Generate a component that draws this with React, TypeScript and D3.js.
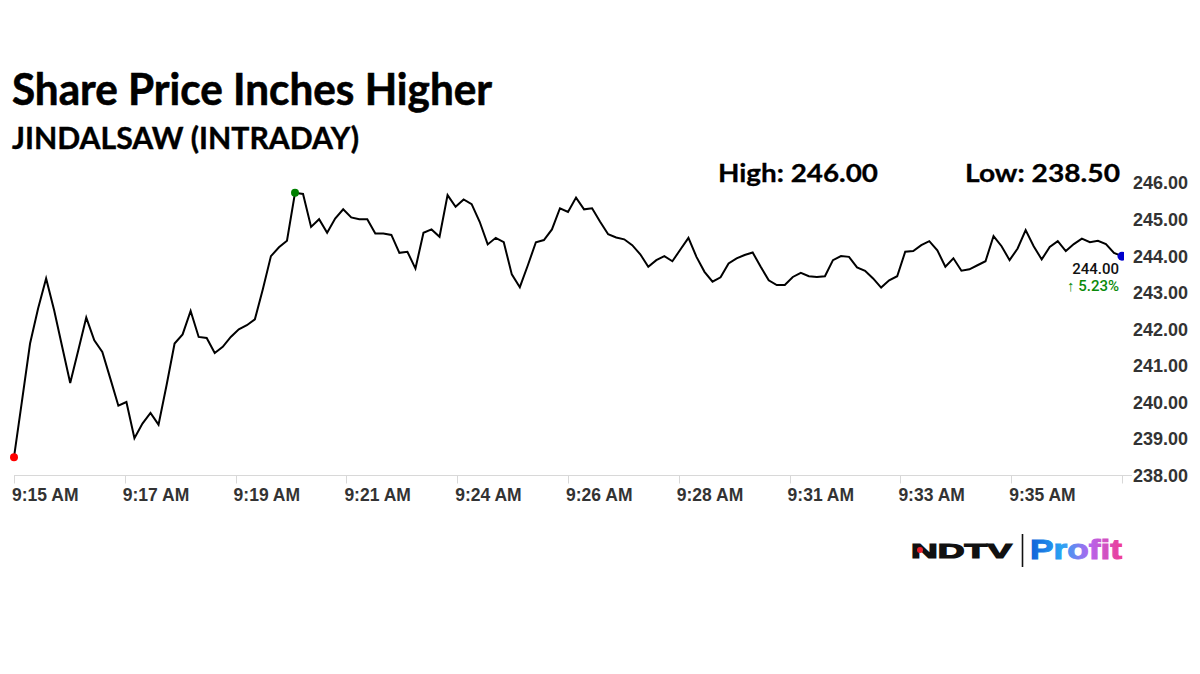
import React from "react";
import * as d3 from "d3";

const title = "Share Price Inches Higher";
const subtitle = "JINDALSAW (INTRADAY)";
const highLabel = "High: 246.00";
const lowLabel = "Low: 238.50";
const lastPriceLabel = "244.00";
const changeLabel = "5.23%";

const prices: number[] = [
  238.5, 240.05, 241.61, 242.57, 243.39, 242.52, 241.52, 240.53, 241.42, 242.32,
  241.7, 241.38, 240.65, 239.91, 240.01, 239.02, 239.42, 239.71, 239.39, 240.47,
  241.61, 241.86, 242.5, 241.79, 241.76, 241.35, 241.52, 241.79, 242.0, 242.11,
  242.27, 243.1, 244.0, 244.24, 244.42, 245.73, 245.7, 244.8, 245.01, 244.64,
  245.03, 245.28, 245.06, 245.01, 245.01, 244.62, 244.62, 244.58, 244.09, 244.12,
  243.66, 244.64, 244.73, 244.53, 245.67, 245.35, 245.55, 245.42, 244.94, 244.32,
  244.5, 244.38, 243.5, 243.15, 243.75, 244.38, 244.44, 244.73, 245.31, 245.21,
  245.6, 245.28, 245.31, 244.94, 244.6, 244.51, 244.46, 244.3, 244.05, 243.71,
  243.89, 244.0, 243.86, 244.18, 244.5, 243.98, 243.57, 243.3, 243.42, 243.8,
  243.94, 244.03, 244.1, 243.71, 243.34, 243.21, 243.21, 243.43, 243.54, 243.45,
  243.43, 243.45, 243.89, 244.0, 243.98, 243.69, 243.6, 243.39, 243.14, 243.34,
  243.45, 244.12, 244.14, 244.3, 244.41, 244.16, 243.71, 243.94, 243.6, 243.64,
  243.75, 243.86, 244.55, 244.27, 243.89, 244.21, 244.71, 244.27, 243.91, 244.25,
  244.41, 244.14, 244.33, 244.48, 244.38, 244.42, 244.33, 244.09, 244.0,
];

const xTickLabels = [
  "9:15 AM", "9:17 AM", "9:19 AM", "9:21 AM", "9:24 AM", "9:26 AM",
  "9:28 AM", "9:31 AM", "9:33 AM", "9:35 AM", "",
];

const yTicks = [238, 239, 240, 241, 242, 243, 244, 245, 246];

const W = 1200;
const H = 674;
const X0 = 14;
const X1 = 1122;
const Y_TOP = 183;
const Y_BOT = 475.5;

export default function App() {
  const n = prices.length;
  const x = d3.scaleLinear().domain([0, n - 1]).range([X0, X1]);
  const y = d3.scaleLinear().domain([238, 246]).range([Y_BOT, Y_TOP]);
  const line = d3
    .line<number>()
    .x((_, i) => x(i))
    .y((d) => y(d));
  const maxIdx = d3.maxIndex(prices);
  const lastIdx = n - 1;
  const tickPos = xTickLabels.map((_, i) => (i * (n - 1)) / (xTickLabels.length - 1));

  const axisFont = "'Liberation Sans', Arial, sans-serif";
  const titleFont = "Lato, 'Open Sans', sans-serif";

  return (
    <svg
      width={W}
      height={H}
      viewBox={`0 0 ${W} ${H}`}
      style={{ position: "absolute", left: 0, top: 0, background: "#fff" }}
    >
      <defs>
        <linearGradient id="profitGrad" x1="0" x2="1" y1="0" y2="0">
          <stop offset="0%" stopColor="#1260d8" />
          <stop offset="35%" stopColor="#2aa4f4" />
          <stop offset="65%" stopColor="#b464ee" />
          <stop offset="100%" stopColor="#f03c94" />
        </linearGradient>
        <clipPath id="plotClip">
          <rect x={0} y={150} width={X1 + 2} height={340} />
        </clipPath>
      </defs>
      <rect x={0} y={0} width={W} height={H} fill="#fff" />

      {/* titles */}
      <text
        x={12}
        y={105}
        fontFamily={titleFont}
        fontWeight={700}
        fontSize={44}
        fill="#000"
        stroke="#000"
        strokeWidth={0.6}
        textLength={480}
        lengthAdjust="spacingAndGlyphs"
      >
        {title}
      </text>
      <text
        x={12}
        y={149}
        fontFamily={titleFont}
        fontWeight={700}
        fontSize={31}
        fill="#000"
        stroke="#000"
        strokeWidth={0.4}
        textLength={347}
        lengthAdjust="spacingAndGlyphs"
      >
        {subtitle}
      </text>
      <text
        x={718}
        y={182}
        fontFamily={titleFont}
        fontWeight={700}
        fontSize={25}
        fill="#000"
        stroke="#000"
        strokeWidth={0.3}
        textLength={160}
        lengthAdjust="spacingAndGlyphs"
      >
        {highLabel}
      </text>
      <text
        x={965}
        y={182}
        fontFamily={titleFont}
        fontWeight={700}
        fontSize={25}
        fill="#000"
        stroke="#000"
        strokeWidth={0.3}
        textLength={155}
        lengthAdjust="spacingAndGlyphs"
      >
        {lowLabel}
      </text>

      {/* x axis */}
      <line x1={X0} x2={1132} y1={Y_BOT} y2={Y_BOT} stroke="#d8d8d8" strokeWidth={1} />
      {tickPos.map((p, i) => (
        <g key={i}>
          <line
            x1={Math.round(x(p)) + 0.5}
            x2={Math.round(x(p)) + 0.5}
            y1={Y_BOT}
            y2={Y_BOT + 8}
            stroke="#d8d8d8"
            strokeWidth={1}
          />
          {xTickLabels[i] && (
            <text
              x={x(p) - 2}
              y={501}
              fontFamily={axisFont}
              fontWeight={700}
              fontSize={17.5}
              fill="#333"
            >
              {xTickLabels[i]}
            </text>
          )}
        </g>
      ))}

      {/* y axis labels */}
      {yTicks.map((t) => (
        <text
          key={t}
          x={1133}
          y={y(t)}
          dy="0.36em"
          fontFamily={axisFont}
          fontWeight={700}
          fontSize={18}
          fill="#333"
        >
          {t.toFixed(2)}
        </text>
      ))}

      {/* price line */}
      <g clipPath="url(#plotClip)">
        <path d={line(prices) || ""} fill="none" stroke="#000" strokeWidth={2} strokeLinejoin="miter" />
        <circle cx={x(0)} cy={y(prices[0])} r={4} fill="#ff0000" />
        <circle cx={x(maxIdx)} cy={y(prices[maxIdx])} r={4} fill="#008000" />
        <circle cx={x(lastIdx)} cy={y(prices[lastIdx])} r={4.5} fill="#0000cc" />
      </g>

      {/* last price annotation */}
      <text
        x={1119}
        y={273.5}
        textAnchor="end"
        fontFamily="Roboto, 'Liberation Sans', sans-serif"
        fontWeight={500}
        fontSize={15}
        fill="#111"
      >
        {lastPriceLabel}
      </text>
      <text
        x={1119}
        y={291}
        textAnchor="end"
        fontFamily="Roboto, 'Liberation Sans', sans-serif"
        fontWeight={500}
        fontSize={15}
        fill="#0a8a0a"
      >
        <tspan fontWeight={900}>↑</tspan> {changeLabel}
      </text>

      {/* logo */}
      <text
        x={911}
        y={557.5}
        fontFamily={axisFont}
        fontWeight={900}
        fontSize={20.5}
        fill="#111"
        stroke="#111"
        strokeWidth={1.2}
        textLength={101}
        lengthAdjust="spacingAndGlyphs"
      >
        NDTV
      </text>
      <circle cx={920} cy={550} r={3} fill="#e8202a" />
      <line x1={1022.5} x2={1022.5} y1={534} y2={567} stroke="#111" strokeWidth={1.6} />
      <text
        x={1030}
        y={558.5}
        fontFamily={axisFont}
        fontWeight={700}
        fontSize={28}
        fill="url(#profitGrad)"
        stroke="url(#profitGrad)"
        strokeWidth={1}
        textLength={92}
        lengthAdjust="spacingAndGlyphs"
      >
        Profit
      </text>
    </svg>
  );
}
